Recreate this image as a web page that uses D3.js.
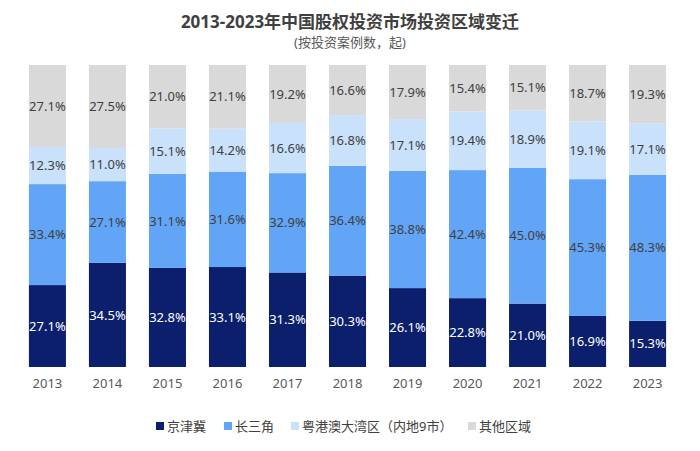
<!DOCTYPE html>
<html><head><meta charset="utf-8">
<script src="https://cdn.jsdelivr.net/npm/d3@7"></script>
<style>body{margin:0;background:#fff}svg{display:block}</style>
</head><body>
<svg id="c" width="700" height="451"></svg>
<script>
const years = ["2013","2014","2015","2016","2017","2018","2019","2020","2021","2022","2023"];
const seriesNames = ["京津冀","长三角","粤港澳大湾区（内地9市）","其他区域"];
const jjj = [27.1,34.5,32.8,33.1,31.3,30.3,26.1,22.8,21.0,16.9,15.3];
const csj = [33.4,27.1,31.1,31.6,32.9,36.4,38.8,42.4,45.0,45.3,48.3];
const gba = [12.3,11.0,15.1,14.2,16.6,16.8,17.1,19.4,18.9,19.1,17.1];
const other = [27.1,27.5,21.0,21.1,19.2,16.6,17.9,15.4,15.1,18.7,19.3];
const colors = ["#0b1f6d","#62a5f6","#cae1fc","#d9d9d9"];
const labelColors = ["#ffffff","#404040","#404040","#404040"];

const font = "'Noto Sans','Noto Sans CJK SC',sans-serif";
const svg = d3.select("#c");
const rows = years.map((y,i)=>({year:y, s0:jjj[i], s1:csj[i], s2:gba[i], s3:other[i]}));
const stack = d3.stack().keys(["s0","s1","s2","s3"]).offset(d3.stackOffsetExpand);
const layers = stack(rows);

const x = d3.scaleBand().domain(years).range([17.5,677.5]).paddingInner(0.383).paddingOuter(0.19);
const y = d3.scaleLinear().domain([0,1]).range([367,65]);

svg.append("text").attr("x",350).attr("y",28).attr("text-anchor","middle")
  .attr("font-family",font).attr("font-weight","bold").attr("font-size",17).attr("fill","#404040")
  .text("2013-2023年中国股权投资市场投资区域变迁");
svg.append("text").attr("x",350).attr("y",47).attr("text-anchor","middle")
  .attr("font-family",font).attr("font-size",13).attr("fill","#595959")
  .text("(按投资案例数，起)");

const g = svg.append("g");
layers.forEach((layer,k)=>{
  const lg = g.append("g");
  lg.selectAll("rect").data(layer).join("rect")
    .attr("x",d=>x(d.data.year)).attr("width",x.bandwidth())
    .attr("y",d=>y(d[1])).attr("height",d=>y(d[0])-y(d[1]))
    .attr("fill",colors[k]);
  lg.selectAll("text").data(layer).join("text")
    .attr("x",d=>x(d.data.year)+x.bandwidth()/2)
    .attr("y",d=>(y(d[0])+y(d[1]))/2)
    .attr("dy","0.35em").attr("text-anchor","middle")
    .attr("font-family",font).attr("font-size",13).attr("fill",labelColors[k])
    .text(d=>d.data["s"+k].toFixed(1)+"%");
});

const axis = d3.axisBottom(x).tickSize(0).tickPadding(12);
const ax = svg.append("g").attr("transform","translate(0,367)").call(axis);
ax.select(".domain").remove();
ax.selectAll("text").attr("font-family",font).attr("font-size",13).attr("fill","#595959");

const legendX = [156,224,291,468];
const leg = svg.append("g");
seriesNames.forEach((n,k)=>{
  leg.append("rect").attr("x",legendX[k]).attr("y",422).attr("width",8).attr("height",8).attr("fill",colors[k]);
  leg.append("text").attr("x",legendX[k]+11).attr("y",426).attr("dy","0.35em")
    .attr("font-family",font).attr("font-size",13).attr("fill","#404040").text(n);
});
</script>
</body></html>
